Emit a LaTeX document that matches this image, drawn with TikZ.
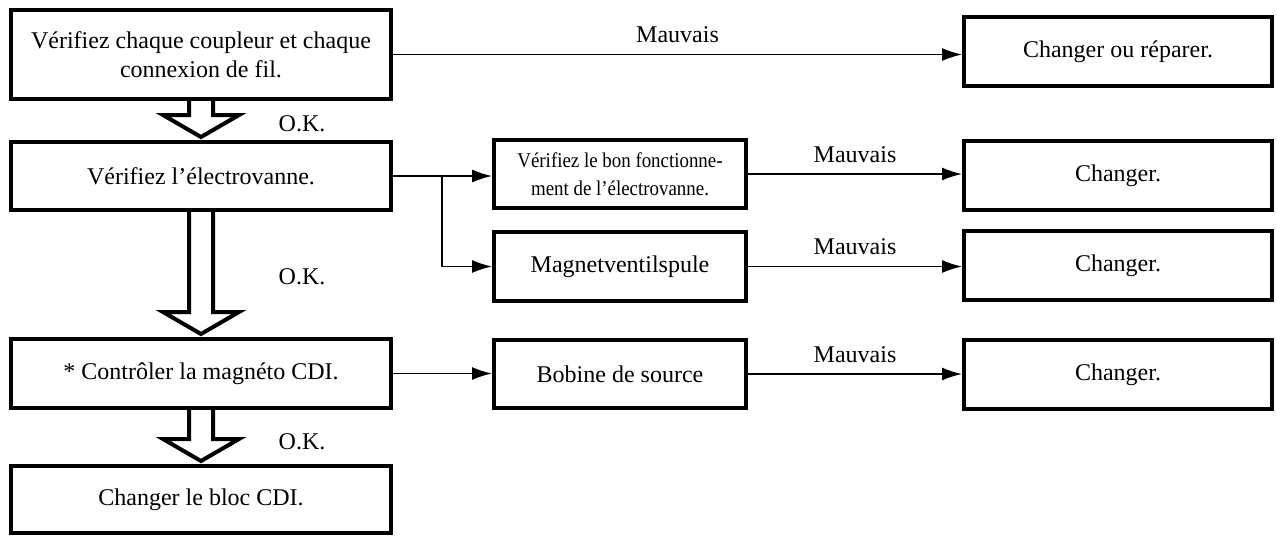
\documentclass[tikz,border=0pt]{standalone}
\usepackage{fontspec}
\setmainfont{Liberation Serif}
\newfontfamily\narrowfont{Liberation Serif}[FakeStretch=0.9]
\usetikzlibrary{arrows.meta,calc}
\tikzset{
  box/.style={draw,line width=2pt,align=center,inner sep=2pt,font=\fontsize{12}{14.5}\selectfont},
  leftbox/.style={box,minimum width=190pt,minimum height=34pt},
  midbox/.style={box,minimum width=126pt,minimum height=34pt},
  rightbox/.style={box,minimum width=154pt,minimum height=34.5pt},
  link/.style={line width=0.8pt,-{Latex[length=10pt,width=6.5pt]}},
  bad/.style={above=2pt,midway,font=\fontsize{12}{14}\selectfont},
  okshape/.style={draw,line width=2pt,fill=white,line join=miter},
  oklabel/.style={font=\fontsize{12}{14}\selectfont}
}
\newcommand{\okarrow}[2]{%
  \draw[okshape] ($(#1.south)+(-6pt,0)$) -- ($(#2.north)+(-6pt,12.5pt)$) -- ++(-13pt,0)
    -- ($(#2.north)+(0,1.5pt)$) -- ($(#2.north)+(19pt,12.5pt)$) -- ++(-13pt,0)
    -- ($(#1.south)+(6pt,0)$);}
\begin{document}
\begin{tikzpicture}[x=0.5pt,y=-0.5pt]
\useasboundingbox (0,0) rectangle (1277,536);
\node[leftbox,minimum height=44.5pt] (coupler) at (201,54.5) {Vérifiez chaque coupleur et chaque\\connexion de fil.};
\node[leftbox] (valve) at (201,176) {Vérifiez l’électrovanne.};
\node[leftbox,minimum height=34.5pt] (magneto) at (201,373.5) {* Contrôler la magnéto CDI.};
\node[leftbox,minimum height=33.5pt] (cdi) at (201,499.5) {Changer le bloc CDI.};
\node[midbox,font=\narrowfont\fontsize{10.5}{14}\selectfont] (function) at (620,174) {Vérifiez le bon fonctionne-\\ment de l’électrovanne.};
\node[midbox,minimum height=34.5pt] (coil) at (620,266.5) {Magnetventilspule};
\node[midbox] (source) at (620,374) {Bobine de source};
\node[rightbox] (repair) at (1118,51.5) {Changer ou réparer.};
\node[rightbox] (change1) at (1118,175.5) {Changer.};
\node[rightbox] (change2) at (1118,265.5) {Changer.};
\node[rightbox] (change3) at (1118,374.5) {Changer.};
\okarrow{coupler}{valve}
\okarrow{valve}{magneto}
\okarrow{magneto}{cdi}
\node[oklabel] (ok1) at (302,124) {O.K.};
\node[oklabel] (ok2) at (302,277) {O.K.};
\node[oklabel] (ok3) at (302,442) {O.K.};
\draw[link] (coupler.east) -- (coupler.east -| repair.west) node[bad] {Mauvais};
\coordinate (fork) at ($(valve.east)+(24.5pt,0)$);
\draw[link] (valve.east) -- (valve.east -| function.west);
\draw[link] (fork) |- (coil.west);
\draw[link] (function.east) -- (function.east -| change1.west) node[bad] {Mauvais};
\draw[link] (coil.east) -- (coil.east -| change2.west) node[bad] {Mauvais};
\draw[link] (magneto.east) -- (magneto.east -| source.west);
\draw[link] (source.east) -- (source.east -| change3.west) node[bad] {Mauvais};
\end{tikzpicture}
\end{document}
